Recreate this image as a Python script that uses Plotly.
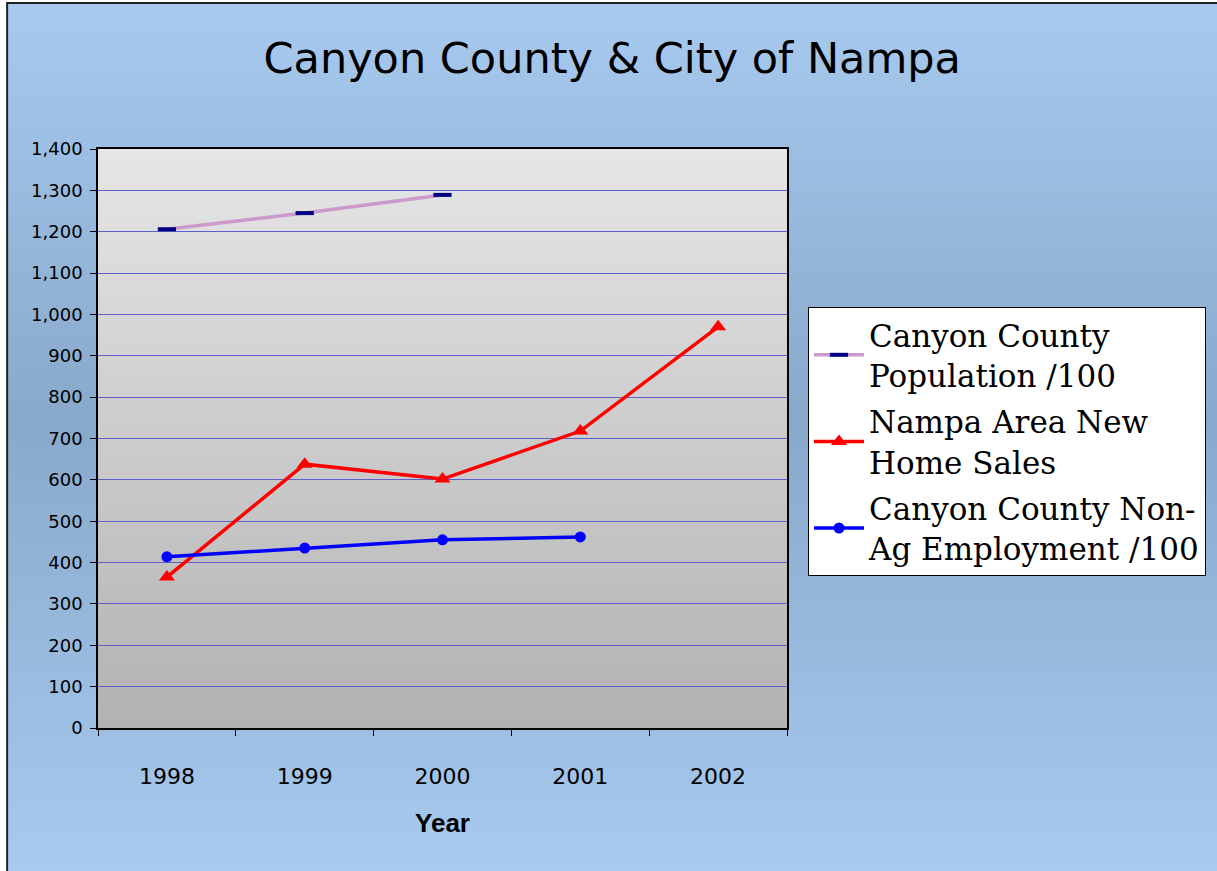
import plotly.graph_objects as go

# ---- data ----
years = ["1998", "1999", "2000", "2001", "2002"]
population = [1206, 1245, 1289, None, None]
home_sales = [365, 638, 602, 718, 970]
employment = [414, 435, 455, 462, None]

names = ["Canyon County<br>Population /100",
         "Nampa Area New<br>Home Sales",
         "Canyon County Non-<br>Ag Employment /100"]

W, H = 1217, 871
L, R, T, B = 98, 429, 149, 143
PW, PH = W - L - R, H - T - B


def px2paper_x(px):
    return (px - L) / PW


def px2paper_y(py):
    return (H - B - py) / PH


def lerp(c1, c2, t):
    return tuple(int(round(a + (b - a) * t)) for a, b in zip(c1, c2))


def hexrgb(h):
    h = h.lstrip("#")
    return tuple(int(h[i:i + 2], 16) for i in (0, 2, 4))


shapes = []
# outer background gradient (light blue -> darker -> light blue)
top_c, mid_c, bot_c = hexrgb("#a8caf0"), hexrgb("#88a9ca"), hexrgb("#a8caf0")
x0p, y0p = 7, 3
step = 5
py = y0p
while py < H:
    p1 = min(py + step, H + 2)
    mid = 420
    c = (py + step / 2)
    if c <= mid:
        col = lerp(top_c, mid_c, (c - y0p) / (mid - y0p))
    else:
        col = lerp(mid_c, bot_c, (c - mid) / (H - mid))
    shapes.append(dict(type="rect", xref="paper", yref="paper", layer="below",
                       x0=px2paper_x(x0p), x1=px2paper_x(W + 5),
                       y0=px2paper_y(py), y1=px2paper_y(p1 + 0.5),
                       fillcolor="rgb(%d,%d,%d)" % col, line=dict(width=0)))
    py = p1

# plot-area gray gradient
ptop, pbot = hexrgb("#e6e6e6"), hexrgb("#b2b2b2")
py = T
while py < T + PH:
    p1 = min(py + step, T + PH)
    col = lerp(ptop, pbot, (py + step / 2 - T) / PH)
    shapes.append(dict(type="rect", xref="paper", yref="paper", layer="below",
                       x0=0, x1=1, y0=px2paper_y(py), y1=px2paper_y(p1 + 0.5) if p1 < T + PH else 0,
                       fillcolor="rgb(%d,%d,%d)" % col, line=dict(width=0)))
    py = p1

# outer frame (left and top edges visible)
shapes.append(dict(type="rect", xref="paper", yref="paper", layer="below",
                   x0=px2paper_x(x0p), x1=px2paper_x(W + 10),
                   y0=px2paper_y(H + 10), y1=px2paper_y(y0p),
                   line=dict(color="#222222", width=2), fillcolor="rgba(0,0,0,0)"))

fig = go.Figure()
fig.add_trace(go.Scatter(
    x=years, y=population, name=names[0], mode="lines+markers", legendgroup="a",
    line=dict(color="#cc99cc", width=3.5),
    marker=dict(symbol="line-ew", size=13, color="#000080",
                line=dict(color="#000080", width=4))))
fig.add_trace(go.Scatter(
    x=years, y=home_sales, name=names[1], mode="lines+markers", legendgroup="b",
    line=dict(color="#ff0000", width=3.5),
    marker=dict(symbol="triangle-up", size=14, color="#ff0000")))
fig.add_trace(go.Scatter(
    x=years, y=employment, name=names[2], mode="lines+markers", legendgroup="c",
    line=dict(color="#0000ff", width=3.5),
    marker=dict(symbol="circle", size=11, color="#0000ff")))

fig.update_layout(
    width=W, height=H,
    margin=dict(l=L, r=R, t=T, b=B, pad=0),
    paper_bgcolor="white",
    plot_bgcolor="rgba(0,0,0,0)",
    shapes=shapes,
    title=dict(text="Canyon County & City of Nampa", x=px2paper_x(613), xref="paper",
               xanchor="center", y=1 - 58 / H, yanchor="middle",
               font=dict(family="DejaVu Sans", size=43, color="black")),
    showlegend=True,
    legend=dict(x=px2paper_x(808), y=px2paper_y(307), xanchor="left", yanchor="top",
                bgcolor="white", bordercolor="black", borderwidth=1,
                font=dict(family="DejaVu Serif", size=31, color="black"),
                itemwidth=50, tracegroupgap=3, traceorder="grouped"),
    font=dict(family="DejaVu Sans", color="black"),
)
fig.update_xaxes(
    type="category", categoryorder="array", categoryarray=years,
    range=[-0.5, 4.5], tickson="boundaries", ticks="outside", ticklen=6,
    tickcolor="black", showline=True, linecolor="black", linewidth=1.5, mirror=True,
    showgrid=False, tickfont=dict(family="DejaVu Sans", size=22),
    ticklabelstandoff=28,
    title=dict(text="<b>Year</b>", font=dict(family="Liberation Sans", size=26),
               standoff=26),
)
fig.update_yaxes(
    range=[0, 1400], dtick=100, tickformat=",", ticks="outside", ticklen=6,
    tickcolor="black", showline=True, linecolor="black", linewidth=1.5, mirror=True,
    showgrid=True, gridcolor="#5f5fcc", gridwidth=1.2, zeroline=False,
    tickfont=dict(family="DejaVu Sans", size=18), ticklabelstandoff=4,
)

fig.write_html("out.html", config={"displayModeBar": False},
               post_script="document.body.style.margin='0';")
